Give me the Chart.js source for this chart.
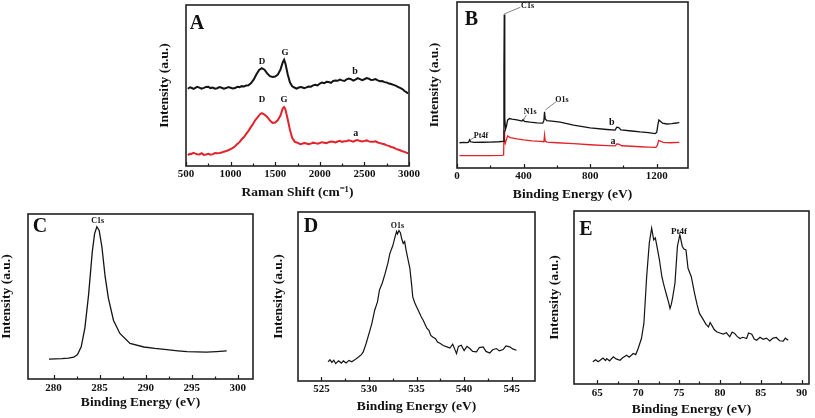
<!DOCTYPE html>
<html><head><meta charset="utf-8">
<script src="https://cdn.jsdelivr.net/npm/chart.js@4/dist/chart.umd.min.js"></script>
<style>
html,body{margin:0;padding:0;background:#fff;width:815px;height:418px;overflow:hidden;position:relative}
canvas{position:absolute}
</style></head><body>
<script>
// ---------- Panel A : Raman ----------
const ramanX_b = [520,545,560,585,600,625,650,675,700,725,750,775,800,825,850,875,900,925,950,975,1000,1025,1050,1075,1100,1125,1150,1175,1200,1230,1260,1290,1320,1350,1380,1410,1440,1470,1500,1530,1560,1585,1600,1615,1640,1665,1690,1720,1740,1760,1780,1800,1825,1850,1875,1900,1925,1950,1975,2000,2025,2050,2075,2100,2125,2150,2175,2200,2225,2250,2275,2300,2325,2350,2375,2400,2425,2450,2475,2500,2525,2550,2575,2600,2625,2650,2675,2700,2725,2750,2775,2800,2825,2850,2875,2900,2925,2950,2970,2990];
const ramanY_b = [48.0,48.9,48.6,47.9,48.4,49.2,48.7,48.0,48.5,49.1,49.2,48.4,48.7,48.0,48.3,49.0,48.6,48.0,48.4,49.0,48.6,48.1,48.4,49.2,49.0,49.6,49.4,50.0,50.2,51.5,53.8,57.0,59.6,60.8,59.8,57.5,55.8,55.3,55.6,56.8,60.0,64.5,66.0,63.5,57.0,52.0,49.5,48.6,48.1,48.6,49.1,48.9,48.3,48.8,49.4,49.3,50.1,50.4,50.0,51.2,51.8,51.4,52.3,52.2,51.6,52.8,53.1,52.9,53.7,53.2,52.8,53.8,54.3,53.9,53.1,53.7,54.6,54.0,53.3,53.9,54.6,54.2,53.4,53.6,54.0,53.2,52.7,52.8,52.1,51.9,51.2,50.9,50.4,49.9,49.2,48.5,47.8,46.6,45.9,45.0];
const ramanX_a = [520,545,560,585,600,625,650,675,700,725,750,775,800,825,850,875,900,925,950,975,1000,1025,1050,1075,1100,1125,1150,1175,1200,1225,1250,1275,1300,1330,1350,1380,1410,1440,1470,1500,1530,1560,1585,1600,1615,1640,1665,1690,1720,1740,1760,1780,1800,1825,1850,1875,1900,1925,1950,1975,2000,2025,2050,2075,2100,2125,2150,2175,2200,2225,2250,2275,2300,2325,2350,2375,2400,2425,2450,2475,2500,2525,2550,2575,2600,2625,2650,2675,2700,2725,2750,2775,2800,2825,2850,2875,2900,2925,2950,2970,2990];
const ramanY_a = [6.8,7.6,7.5,8.2,7.8,7.3,7.2,7.9,6.9,7.2,7.6,7.0,7.4,8.0,7.9,8.1,8.4,8.9,9.3,9.8,10.5,11.2,12.3,13.6,14.8,16.6,18.0,19.9,21.8,24.0,26.0,28.4,30.0,32.2,32.8,32.0,30.5,28.3,26.8,27.0,28.5,31.5,35.8,36.6,35.0,29.0,22.5,17.5,15.0,14.6,14.2,13.6,13.8,14.3,14.0,13.6,13.9,14.5,14.2,13.9,14.3,14.8,14.5,14.2,14.8,15.2,15.0,14.6,15.2,15.6,15.0,15.3,15.4,15.9,15.6,15.1,15.8,16.1,15.5,15.2,15.6,15.9,15.3,15.0,15.0,15.3,14.6,14.2,13.8,13.5,12.8,12.5,11.8,11.5,10.8,10.2,9.8,9.2,8.8,8.3,7.9];
const ramanTicks = [500,1000,1500,2000,2500,3000];
const ramanMinor = [750,1250,1750,2250,2750];

// ---------- Panel B : XPS survey ----------
const surveyX_b = [15,40,60,70,76,82,100,150,200,250,278,282,284,286,288,292,298,304,315,330,360,390,398,404,440,480,515,522,526,530,540,570,620,700,800,900,950,960,972,985,1050,1100,1150,1190,1200,1207,1213,1222,1235,1260,1290,1320,1336];
const surveyY_b = [15.2,15.4,15.3,15.6,17.0,15.8,15.4,15.5,15.6,15.8,16.0,60,92.5,55,30,23.5,25.5,28.8,29.8,29.5,29.0,28.3,29.2,28.1,27.6,27.2,27.0,28.5,33.9,29.5,28.6,28.3,27.6,25.8,24.2,23.2,22.8,24.6,24.4,23.0,22.3,21.7,21.3,20.7,21.5,26,28.9,28.2,27.0,26.5,26.7,27.1,27.5];
const surveyX_a = [15,100,200,270,280,283,286,290,296,304,320,360,400,450,500,522,526,530,540,600,700,800,900,950,962,975,990,1050,1100,1150,1195,1203,1212,1225,1240,1280,1336];
const surveyY_a = [7.4,7.4,7.5,7.6,7.8,22.9,17.0,14.9,16.8,19.3,18.3,17.6,17.0,16.4,16.0,15.8,19.9,16.2,15.6,15.2,14.7,14.0,13.5,13.3,14.6,14.2,13.4,13.1,12.8,12.6,12.4,13.5,16.6,16.0,15.4,15.2,15.4];
const surveyTicks = [0,400,800,1200];
const surveyMinor = [200,600,1000];

// ---------- Panel C : C1s ----------
const c1sX = [279.5,280.2,280.9,281.6,282.2,282.6,283.0,283.4,283.8,284.2,284.45,284.7,284.95,285.25,285.6,285.95,286.5,287.2,288.3,289.8,291.0,292.3,293.5,294.5,295.5,296.6,297.7,298.8];
const c1sY = [12.0,12.2,12.4,12.7,13.2,14.8,19.5,31.0,51.0,77.0,88.0,92.3,90.0,80.0,62.0,49.0,35.6,27.6,21.6,19.4,18.5,17.8,17.1,16.6,16.4,16.3,16.6,17.0];
const c1sTicks = [280,285,290,295,300];
const c1sMinor = [282.5,287.5,292.5,297.5];

// ---------- Panel D : O1s ----------
const o1sX = [525.7,525.9,526.1,526.3,526.5,526.8,527.1,527.3,527.6,527.9,528.2,528.5,528.9,529.2,529.4,529.7,530.1,530.3,530.6,530.9,531.1,531.4,531.7,532.0,532.2,532.5,532.7,532.9,533.0,533.15,533.3,533.45,533.6,533.75,533.9,534.1,534.3,534.5,534.6,534.8,535.0,535.2,535.5,535.7,535.9,536.1,536.3,536.5,536.7,537.0,537.2,537.5,537.8,538.2,538.5,538.8,539.0,539.2,539.4,539.7,540.0,540.3,540.6,540.9,541.3,541.6,542.0,542.3,542.7,543.0,543.4,543.7,544.1,544.4,544.8,545.1,545.5];
const o1sY = [11.3,12.6,11.0,12.3,10.3,12.0,10.6,11.9,10.7,12.2,11.4,12.5,14.2,15.6,17.2,22.2,30.0,34.0,41.9,47.0,53.8,58.0,63.7,70.0,75.5,80.0,84.4,88.5,87.0,89.0,87.7,84.0,81.4,82.5,77.5,72.0,66.6,56.0,49.8,46.5,43.9,41.5,37.9,36.0,33.5,31.1,30.0,27.0,26.1,25.0,23.0,22.2,21.0,20.2,19.5,21.8,19.0,16.2,20.5,21.2,18.0,20.5,19.2,17.5,17.2,19.8,20.2,17.5,16.6,18.5,19.2,17.8,18.6,20.8,20.2,19.0,18.2];
const o1sTicks = [525,530,535,540,545];
const o1sMinor = [527.5,532.5,537.5,542.5];

// ---------- Panel E : Pt4f ----------
const pt4fX = [64.45,64.8,65.1,65.35,65.7,66.0,66.15,66.5,66.96,67.3,67.78,68.1,68.6,68.9,69.4,69.7,70.0,70.4,70.7,71.04,71.36,71.65,71.9,72.1,72.3,72.6,72.9,73.1,73.3,73.5,73.7,73.9,74.05,74.2,74.5,74.8,75.1,75.4,75.6,75.85,76.1,76.3,76.5,76.9,77.2,77.5,77.8,78.0,78.3,78.6,78.8,79.0,79.3,79.6,80.0,80.4,80.8,81.2,81.5,81.8,82.1,82.45,82.8,83.27,83.5,83.9,84.2,84.5,84.9,85.3,85.7,86.1,86.5,86.9,87.3,87.75,88.0,88.36];
const pt4fY = [12.8,14.0,12.9,13.7,15.0,13.6,14.7,13.4,15.7,14.5,13.7,15.2,16.6,15.5,17.6,17.0,20.5,26.3,35.0,62.0,81.4,90.1,83.3,84.5,79.5,71.8,62.0,58.0,54.4,51.0,47.6,43.7,46.0,49.5,58.2,79.5,86.3,79.5,78.0,77.5,66.9,64.5,62.0,52.4,46.0,40.8,38.5,36.9,34.5,33.0,35.5,34.0,31.5,30.2,29.5,28.8,29.6,27.3,30.0,29.2,27.5,26.3,27.0,26.3,29.5,28.8,26.0,25.3,27.0,25.8,26.5,24.9,26.5,26.9,25.0,24.8,26.5,25.3];
const pt4fTicks = [65,70,75,80,85,90];
const pt4fMinor = [67.5,72.5,77.5,82.5,87.5];

const SERIF = '"Liberation Serif","Times New Roman",serif';
const BLACK = '#141414';
const RED = '#e3232b';

function pts(xs, ys){ return xs.map((x,i)=>({x:x,y:ys[i]})); }

function makePanel(cfg){
  const [L,T,R,B] = cfg.frame;
  const PR = 22;
  const TS = 13.5, TLH = TS*1.2/2;
  const x0 = cfg.yTitleX - 9, y0 = T - 4, x1 = R + PR, y1 = cfg.xTitleY + 10;
  const cv = document.createElement('canvas');
  cv.width = x1 - x0; cv.height = y1 - y0;
  cv.style.left = x0 + 'px'; cv.style.top = y0 + 'px';
  cv.style.width = (x1-x0)+'px'; cv.style.height = (y1-y0)+'px';
  document.body.appendChild(cv);
  const yw = L - x0, xh = y1 - B;
  const deco = {
    id:'deco'+cfg.id,
    afterDraw(chart){
      const ctx = chart.ctx, a = chart.chartArea, xs = chart.scales.x, ys = chart.scales.y;
      ctx.save();
      ctx.strokeStyle = '#1a1a1a'; ctx.lineWidth = 1.2;
      cfg.ticks.forEach(v=>{const px=Math.round(xs.getPixelForValue(v))+0.5; ctx.beginPath(); ctx.moveTo(px,a.bottom); ctx.lineTo(px,a.bottom-4); ctx.stroke();});
      cfg.minor.forEach(v=>{const px=Math.round(xs.getPixelForValue(v))+0.5; ctx.beginPath(); ctx.moveTo(px,a.bottom); ctx.lineTo(px,a.bottom-2.5); ctx.stroke();});
      ctx.lineWidth = 1.6; ctx.strokeStyle = '#222';
      ctx.strokeRect(a.left, a.top, a.right-a.left, a.bottom-a.top);
      ctx.fillStyle = '#111'; ctx.textAlign='center'; ctx.textBaseline='middle';
      ctx.font = 'bold 20px ' + SERIF;
      ctx.fillText(cfg.letter, cfg.letterPos[0]-x0, cfg.letterPos[1]-y0);
      (cfg.notes||[]).forEach(n=>{
        ctx.font = 'bold ' + n.size + 'px ' + SERIF;
        ctx.fillStyle = '#111';
        ctx.fillText(n.text, xs.getPixelForValue(n.x), ys.getPixelForValue(n.y));
        if (n.line){
          ctx.strokeStyle = '#666'; ctx.lineWidth = 0.8; ctx.beginPath();
          ctx.moveTo(xs.getPixelForValue(n.line[0]), ys.getPixelForValue(n.line[1]));
          ctx.lineTo(xs.getPixelForValue(n.line[2]), ys.getPixelForValue(n.line[3]));
          ctx.stroke();
        }
      });
      ctx.restore();
    }
  };
  new Chart(cv, {
    type:'line',
    data:{datasets: cfg.datasets.map(d=>({data:pts(d.x,d.y), borderColor:d.color, borderWidth:d.width||1.3, pointRadius:0, tension:0, fill:false}))},
    options:{
      responsive:false, animation:false, devicePixelRatio:1,
      layout:{padding:{top:4,right:PR,left:0,bottom:0}},
      plugins:{legend:{display:false}, tooltip:{enabled:false}},
      scales:{
        x:{type:'linear', min:cfg.xMin, max:cfg.xMax,
           afterBuildTicks:s=>{s.ticks = cfg.ticks.map(v=>({value:v}));},
           afterFit:s=>{s.height = xh; s.paddingLeft=0; s.paddingRight=0;},
           grid:{display:false, drawTicks:false, tickLength:0}, border:{display:false},
           ticks:{autoSkip:false, maxRotation:0, color:'#111', padding: cfg.tickY - B - 6.6,
                  font:{family:SERIF, size:11, weight:'bold', lineHeight:1.2}, callback:v=>String(v)},
           title:{display:true, text:cfg.xTitle, color:'#111', font:{family:SERIF,size:TS,weight:'bold',lineHeight:1.2},
                  padding:{top:0,bottom: y1 - cfg.xTitleY - TLH}}},
        y:{type:'linear', min:0, max:100,
           afterFit:s=>{s.width = yw; s.paddingTop=0; s.paddingBottom=0;},
           grid:{display:false, drawTicks:false}, border:{display:false}, ticks:{display:false},
           title:{display:true, text:'Intensity (a.u.)', color:'#111', font:{family:SERIF,size:TS,weight:'bold',lineHeight:1.2},
                  padding:{top: cfg.yTitleX - x0 - TLH, bottom:0}}}
      }
    },
    plugins:[deco]
  });
}

makePanel({id:'A', frame:[186,5,409,166], yTitleX:165, xTitleY:193, tickY:174,
  xMin:500, xMax:3000, ticks:ramanTicks, minor:ramanMinor, xTitle:'Raman Shift (cm\u207B\u00B9)',
  letter:'A', letterPos:[197,24],
  datasets:[{x:ramanX_b,y:ramanY_b,color:BLACK,width:2},{x:ramanX_a,y:ramanY_a,color:RED,width:2}],
  notes:[{text:'D',x:1352,y:64.6,size:9},{text:'G',x:1610,y:70.2,size:9},{text:'b',x:2395,y:59,size:10},
         {text:'D',x:1352,y:41,size:9},{text:'G',x:1599,y:41,size:9},{text:'a',x:2402,y:20.5,size:10}]});

makePanel({id:'B', frame:[457,2,688,168], yTitleX:435, xTitleY:195, tickY:176,
  xMin:0, xMax:1388, ticks:surveyTicks, minor:surveyMinor, xTitle:'Binding Energy (eV)',
  letter:'B', letterPos:[471.5,20],
  datasets:[{x:surveyX_b,y:surveyY_b,color:BLACK,width:1.3},{x:surveyX_a,y:surveyY_a,color:RED,width:1.3}],
  notes:[{text:'C1s',x:424,y:97.6,size:8,line:[284,92.8,380,96.8]},
         {text:'N1s',x:440,y:33.9,size:8,line:[400,28.9,416,31.9]},
         {text:'O1s',x:630,y:41,size:8,line:[530,34.9,596,40]},
         {text:'Pt4f',x:144,y:19.3,size:8,line:[80,16.9,110,18.9]},
         {text:'b',x:930,y:27.5,size:10},{text:'a',x:937,y:16.3,size:10}]});

makePanel({id:'C', frame:[28,214,253,379], yTitleX:7, xTitleY:403, tickY:388,
  xMin:277.22, xMax:301.66, ticks:c1sTicks, minor:c1sMinor, xTitle:'Binding Energy (eV)',
  letter:'C', letterPos:[40,227],
  datasets:[{x:c1sX,y:c1sY,color:BLACK,width:1.3}],
  notes:[{text:'C1s',x:284.8,y:95.7,size:8}]});

makePanel({id:'D', frame:[298,212,535,381], yTitleX:279, xTitleY:407, tickY:389,
  xMin:522.54, xMax:547.45, ticks:o1sTicks, minor:o1sMinor, xTitle:'Binding Energy (eV)',
  letter:'D', letterPos:[311,227],
  datasets:[{x:o1sX,y:o1sY,color:BLACK,width:1.2}],
  notes:[{text:'O1s',x:533.0,y:91.9,size:8}]});

makePanel({id:'E', frame:[574,211,809,384], yTitleX:555, xTitleY:410, tickY:393,
  xMin:62.15, xMax:90.9, ticks:pt4fTicks, minor:pt4fMinor, xTitle:'Binding Energy (eV)',
  letter:'E', letterPos:[586,230],
  datasets:[{x:pt4fX,y:pt4fY,color:BLACK,width:1.2}],
  notes:[{text:'Pt4f',x:75.0,y:88.2,size:9}]});
</script>
</body></html>
